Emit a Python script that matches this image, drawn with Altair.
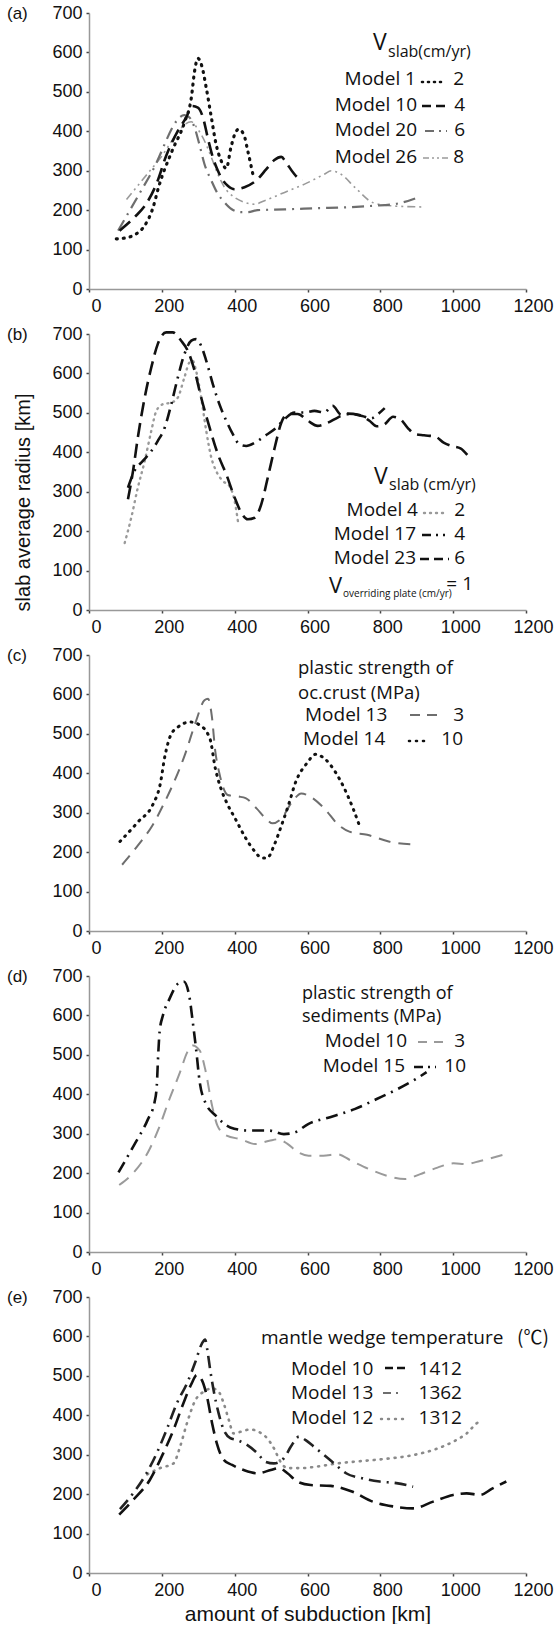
import altair as alt
import pandas as pd

# ---------------- data ----------------
X_TICKS = [0, 200, 400, 600, 800, 1000, 1200]
Y_TICKS = [0, 100, 200, 300, 400, 500, 600, 700]

# (a)
A_M1_X = [75, 107, 130, 153, 176, 191, 228, 262, 281, 290, 299, 310, 322, 336, 349, 363, 377, 390, 404, 411, 425, 436, 450]
A_M1_Y = [127, 131, 140, 161, 207, 258, 350, 422, 485, 553, 585, 565, 510, 435, 367, 325, 306, 360, 400, 405, 392, 350, 291]
A_M10_X = [84, 125, 157, 185, 212, 244, 267, 283, 299, 313, 326, 340, 354, 368, 381, 400, 427, 459, 487, 509, 528, 541, 560, 578, 587]
A_M10_Y = [148, 182, 216, 266, 338, 401, 435, 464, 460, 435, 384, 334, 300, 275, 262, 253, 258, 275, 304, 327, 335, 321, 296, 279, 277]
A_M20_X = [80, 171, 262, 276, 290, 303, 317, 336, 354, 372, 391, 418, 436, 463, 537, 628, 700, 780, 849, 908]
A_M20_Y = [148, 294, 441, 435, 409, 367, 317, 275, 241, 220, 203, 195, 195, 200, 202, 205, 207, 211, 217, 234]
A_M26_X = [103, 190, 281, 299, 317, 336, 354, 372, 400, 427, 454, 482, 537, 592, 646, 665, 692, 731, 780, 829, 922]
A_M26_Y = [227, 325, 424, 405, 376, 334, 291, 258, 232, 220, 215, 224, 245, 266, 291, 300, 291, 257, 219, 211, 208]
A_HEAD = ["V", "slab(cm/yr)"]
A_NAMES = ["Model 1", "Model 10", "Model 20", "Model 26"]
A_VALUES = ["2", "4", "6", "8"]

# (b)
B_M4_X = [98, 116, 134, 153, 171, 185, 203, 226, 244, 262, 276, 285, 294, 308, 322, 336, 349, 368, 386, 400, 409]
B_M4_Y = [170, 234, 310, 378, 454, 505, 522, 526, 539, 590, 628, 632, 607, 539, 454, 386, 353, 327, 314, 276, 225]
B_M17_X = [107, 125, 148, 171, 189, 208, 226, 244, 262, 281, 294, 308, 322, 340, 358, 377, 395, 413, 432, 455, 482, 510,
           537, 564, 591, 619, 646, 669, 692, 720, 750, 775, 795, 812]
B_M17_Y = [310, 353, 378, 403, 429, 463, 522, 590, 649, 683, 687, 670, 632, 573, 522, 480, 446, 420, 416, 424, 441, 459,
           484, 501, 501, 505, 501, 518, 496, 497, 492, 486, 498, 512]
B_M23_X = [107, 121, 134, 153, 171, 189, 212, 230, 253, 271, 290, 308, 331, 354, 377, 400, 418, 436, 455, 473, 491, 510,
           528, 546, 573, 601, 628, 656, 683, 710, 740, 770, 790, 810, 835, 855, 875, 895, 920, 950, 975, 1000, 1020, 1041]
B_M23_Y = [281, 353, 437, 539, 615, 675, 704, 704, 683, 658, 607, 539, 463, 395, 344, 285, 247, 230, 234, 268, 336, 412,
           475, 497, 497, 480, 467, 475, 488, 498, 495, 480, 466, 470, 490, 484, 462, 446, 443, 440, 424, 415, 410, 391]
B_HEAD = ["V", "slab (cm/yr)"]
B_NAMES = ["Model 4", "Model 17", "Model 23"]
B_VALUES = ["2", "4", "6"]
B_FOOT = ["V", "overriding plate (cm/yr)", "= 1"]

# (c)
C_M13_X = [91, 136, 175, 204, 234, 263, 293, 317, 327, 337, 347, 357, 381, 411, 430, 460, 489, 504, 529, 558, 583, 607,
           646, 685, 715, 764, 823, 897]
C_M13_Y = [168, 219, 269, 320, 379, 446, 530, 585, 589, 547, 454, 404, 345, 341, 337, 311, 282, 273, 286, 328, 349, 341,
           311, 269, 252, 244, 227, 219]
C_M14_X = [85, 136, 175, 195, 209, 224, 244, 278, 303, 332, 347, 362, 381, 401, 430, 455, 475, 489, 509, 529, 548, 568,
           598, 622, 647, 676, 701, 725, 745]
C_M14_Y = [227, 278, 320, 370, 446, 496, 517, 530, 523, 488, 412, 362, 320, 286, 236, 202, 185, 185, 219, 269, 320, 379,
           425, 448, 437, 404, 362, 311, 261]
C_HEAD = ["plastic strength  of", "oc.crust (MPa)"]
C_NAMES = ["Model 13", "Model 14"]
C_VALUES = ["3", "10"]

# (d)
D_M10_X = [83, 123, 162, 191, 221, 250, 270, 285, 304, 319, 338, 353, 378, 417, 456, 495, 520, 545, 574, 603, 643, 682,
           721, 770, 819, 868, 908, 957, 1001, 1035, 1074, 1143]
D_M10_Y = [170, 202, 253, 312, 388, 456, 507, 524, 511, 464, 371, 320, 295, 286, 274, 282, 286, 274, 253, 244, 244, 248,
           231, 210, 193, 185, 197, 214, 225, 223, 231, 248]
D_M15_X = [81, 123, 162, 180, 186, 190, 194, 203, 221, 245, 260, 275, 285, 294, 304, 319, 348, 388, 437, 495, 535, 564,
           603, 662, 731, 790, 849, 898, 927]
D_M15_Y = [202, 270, 337, 380, 420, 500, 560, 600, 642, 681, 686, 651, 583, 515, 431, 380, 346, 316, 308, 308, 299, 303,
           325, 342, 363, 388, 414, 439, 456]
D_HEAD = ["plastic strength  of", "sediments (MPa)"]
D_NAMES = ["Model 10", "Model 15"]
D_VALUES = ["3", "10"]

# (e)
E_M10_X = [83, 121, 167, 204, 232, 259, 282, 296, 310, 324, 338, 351, 370, 393, 425, 462, 499, 522, 545, 572, 609, 664,
           724, 779, 834, 890, 945, 1000, 1037, 1074, 1107, 1146]
E_M10_Y = [148, 185, 236, 304, 363, 430, 481, 502, 489, 447, 380, 329, 287, 274, 261, 253, 261, 266, 253, 232, 223, 221,
           206, 181, 169, 164, 181, 198, 202, 198, 214, 232]
E_M13_X = [85, 121, 158, 186, 213, 241, 269, 292, 310, 319, 325, 333, 342, 356, 370, 388, 407, 434, 462, 485, 508, 535,
           554, 577, 595, 618, 646, 673, 706, 752, 798, 844, 890]
E_M13_Y = [162, 202, 253, 304, 363, 430, 481, 535, 582, 592, 565, 514, 464, 405, 363, 342, 337, 325, 304, 282, 278, 291,
           320, 346, 337, 320, 299, 278, 253, 240, 232, 228, 219]
E_M12_X = [160, 195, 232, 250, 269, 292, 315, 338, 356, 370, 384, 397, 416, 443, 466, 489, 508, 526, 545, 581, 627, 683,
           750, 798, 890, 945, 1000, 1037, 1065, 1073]
E_M12_Y = [250, 266, 278, 320, 380, 438, 460, 468, 460, 430, 388, 354, 358, 364, 358, 342, 316, 282, 266, 266, 270, 278,
           284, 288, 299, 312, 333, 354, 380, 385]
E_HEAD = ["mantle wedge temperature", "(\u2103)"]
E_NAMES = ["Model 10", "Model 13", "Model 12"]
E_VALUES = ["1412", "1362", "1312"]

LETTERS = ["(a)", "(b)", "(c)", "(d)", "(e)"]
X_TITLE = "amount of subduction [km]"
Y_TITLE = "slab average radius [km]"

# ---------------- styling ----------------
W, H = 437, 276
TICK_FONT = "Liberation Sans"
LEG_FONT = "Open Sans"
CJK_FONT = "Noto Sans CJK SC"
LS = 19  # legend font size
BLACK = "#111111"
GRAY = "#6e6e6e"
LGRAY = "#9a9a9a"

DOT = [1, 6]
DASH = [14, 7]
DASHDOT = [12, 6, 2, 6]
DASHDOTDOT = [8, 4, 2, 4, 2, 4]


def enc(xtitle=None, ytitle=None):
    if xtitle:
        xa = alt.Axis(values=X_TICKS, format="d", title=xtitle, titlePadding=4, labelOffset=7)
    else:
        xa = alt.Axis(values=X_TICKS, format="d", title=None, labelOffset=7)
    if ytitle:
        ya = alt.Axis(values=Y_TICKS, format="d", title=ytitle, titleX=-66, titleY=168, titleAngle=270,
                      titleAlign="center", titleBaseline="middle", titleFontSize=20)
    else:
        ya = alt.Axis(values=Y_TICKS, format="d", title=None)
    return (alt.X("x:Q", scale=alt.Scale(domain=[0, 1200], nice=False), axis=xa),
            alt.Y("y:Q", scale=alt.Scale(domain=[0, 700], nice=False), axis=ya))


def line(xs, ys, color, dash, width, cap, e):
    df = pd.DataFrame({"x": xs, "y": ys})
    return alt.Chart(df).mark_line(color=color, strokeDash=dash, strokeWidth=width, strokeCap=cap,
                                   interpolate="monotone").encode(x=e[0], y=e[1])


def txt(s, x, y, size=LS, align="left", baseline="alphabetic", font=LEG_FONT, color=BLACK):
    return alt.Chart(pd.DataFrame({"t": [s]})).mark_text(
        align=align, baseline=baseline, fontSize=size, font=font, color=color
    ).encode(text="t:N", x=alt.value(x), y=alt.value(y))


def glyph(x1, x2, y, color, dash, width, cap):
    return alt.Chart(pd.DataFrame({"k": [0]})).mark_rule(
        color=color, strokeDash=dash, strokeWidth=width, strokeCap=cap
    ).encode(x=alt.value(x1), x2=alt.value(x2), y=alt.value(y))


def letter(s):
    return txt(s, -82, 1, size=17, baseline="middle", font=TICK_FONT)


# ---------------- panel (a) ----------------
ea = enc()
panel_a = alt.layer(
    line(A_M26_X, A_M26_Y, LGRAY, DASHDOTDOT, 1.6, "butt", ea),
    line(A_M20_X, A_M20_Y, GRAY, DASHDOT, 2.2, "butt", ea),
    line(A_M10_X, A_M10_Y, BLACK, DASH, 2.6, "butt", ea),
    line(A_M1_X, A_M1_Y, BLACK, DOT, 3.2, "round", ea),
    letter(LETTERS[0]),
    txt(A_HEAD[0], 284, 37, size=23),
    txt(A_HEAD[1], 299, 44, size=16),
    txt(A_NAMES[0], 327, 72, align="right"),
    glyph(333, 352, 69, BLACK, [1, 5], 2.6, "round"),
    txt(A_VALUES[0], 375, 72, align="right"),
    txt(A_NAMES[1], 328, 98, align="right"),
    glyph(333, 361, 93, BLACK, [9, 5], 2.4, "butt"),
    txt(A_VALUES[1], 376, 98, align="right"),
    txt(A_NAMES[2], 328, 123, align="right"),
    glyph(336, 358, 118, GRAY, [9, 5, 2, 5], 2.2, "butt"),
    txt(A_VALUES[2], 376, 123, align="right"),
    txt(A_NAMES[3], 328, 150, align="right"),
    glyph(334, 360, 145, LGRAY, [6, 3, 2, 3, 2, 3], 1.6, "butt"),
    txt(A_VALUES[3], 375, 150, align="right"),
).properties(width=W, height=H)

# ---------------- panel (b) ----------------
eb = enc(ytitle=Y_TITLE)
panel_b = alt.layer(
    line(B_M4_X, B_M4_Y, LGRAY, [1, 5], 2.4, "round", eb),
    line(B_M17_X, B_M17_Y, BLACK, DASHDOT, 2.6, "butt", eb),
    line(B_M23_X, B_M23_Y, BLACK, DASH, 2.6, "butt", eb),
    letter(LETTERS[1]),
    txt(B_HEAD[0], 285, 150, size=23),
    txt(B_HEAD[1], 300, 156, size=16),
    txt(B_NAMES[0], 329, 182, align="right"),
    glyph(335, 357, 179, LGRAY, [1, 5], 2.4, "round"),
    txt(B_VALUES[0], 376, 182, align="right"),
    txt(B_NAMES[1], 327, 206, align="right"),
    glyph(333, 356, 201, BLACK, [9, 5, 2, 5], 2.4, "butt"),
    txt(B_VALUES[1], 376, 206, align="right"),
    txt(B_NAMES[2], 327, 230, align="right"),
    glyph(331, 360, 225, BLACK, [9, 5], 2.4, "butt"),
    txt(B_VALUES[2], 376, 230, align="right"),
    txt(B_FOOT[0], 240, 259, size=22),
    txt(B_FOOT[1], 254, 263, size=10),
    txt(B_FOOT[2], 384, 256, align="right"),
).properties(width=W, height=H)

# ---------------- panel (c) ----------------
ec = enc()
panel_c = alt.layer(
    line(C_M13_X, C_M13_Y, GRAY, [12, 8], 2.0, "butt", ec),
    line(C_M14_X, C_M14_Y, BLACK, DOT, 3.0, "round", ec),
    letter(LETTERS[2]),
    txt(C_HEAD[0], 209, 19, size=18.5),
    txt(C_HEAD[1], 209, 44, size=18.5),
    txt(C_NAMES[0], 216, 66),
    glyph(321, 348, 60, GRAY, [10, 7], 2.0, "butt"),
    txt(C_VALUES[0], 375, 66, align="right"),
    txt(C_NAMES[1], 214, 90),
    glyph(320, 339, 86, BLACK, [1, 6], 2.6, "round"),
    txt(C_VALUES[1], 374, 90, align="right"),
).properties(width=W, height=H)

# ---------------- panel (d) ----------------
ed = enc()
panel_d = alt.layer(
    line(D_M10_X, D_M10_Y, LGRAY, [12, 8], 2.0, "butt", ed),
    line(D_M15_X, D_M15_Y, BLACK, DASHDOT, 2.6, "butt", ed),
    letter(LETTERS[3]),
    txt(D_HEAD[0], 213, 23, size=18),
    txt(D_HEAD[1], 213, 46, size=18),
    txt(D_NAMES[0], 318, 71, align="right"),
    glyph(329, 354, 66, LGRAY, [9, 7], 2.0, "butt"),
    txt(D_VALUES[0], 376, 71, align="right"),
    txt(D_NAMES[1], 316, 96, align="right"),
    glyph(325, 347, 91, BLACK, [9, 5, 2, 5], 2.4, "butt"),
    txt(D_VALUES[1], 377, 96, align="right"),
).properties(width=W, height=H)

# ---------------- panel (e) ----------------
ee = enc(xtitle=X_TITLE)
panel_e = alt.layer(
    line(E_M12_X, E_M12_Y, "#8a8a8a", [1, 6], 2.6, "round", ee),
    line(E_M13_X, E_M13_Y, "#222222", DASHDOT, 2.6, "butt", ee),
    line(E_M10_X, E_M10_Y, BLACK, DASH, 2.6, "butt", ee),
    letter(LETTERS[4]),
    txt(E_HEAD[0], 172, 47),
    txt(E_HEAD[1], 428, 47, font=CJK_FONT),
    txt(E_NAMES[0], 202, 78),
    glyph(296, 317, 71, BLACK, [8, 4], 2.4, "butt"),
    txt(E_VALUES[0], 373, 78, align="right"),
    txt(E_NAMES[1], 202, 102),
    glyph(294, 313, 96, GRAY, [8, 5, 2, 5], 2.2, "butt"),
    txt(E_VALUES[1], 373, 102, align="right"),
    txt(E_NAMES[2], 202, 127),
    glyph(292, 315, 122, "#8a8a8a", [1, 6], 2.4, "round"),
    txt(E_VALUES[2], 373, 127, align="right"),
).properties(width=W, height=H)

chart = alt.vconcat(
    panel_a, panel_b, panel_c, panel_d, panel_e, spacing=45, bounds="flush"
).properties(
    padding={"left": 7, "top": 4, "right": 0, "bottom": 0}
).configure_view(
    strokeWidth=0
).configure_axis(
    grid=False,
    domainColor="#999999",
    domainWidth=1.5,
    tickColor="#444444",
    tickSize=3,
    tickWidth=1.5,
    labelFont=TICK_FONT,
    labelFontSize=18,
    labelColor=BLACK,
    titleFont=TICK_FONT,
    titleFontSize=21,
    titleFontWeight="normal",
    titleColor=BLACK,
).configure_axisX(
    labelPadding=5, labelFlush=False
).configure_axisY(
    labelPadding=4
)

chart.save("out.html", embed_options={"renderer": "svg", "actions": False})
